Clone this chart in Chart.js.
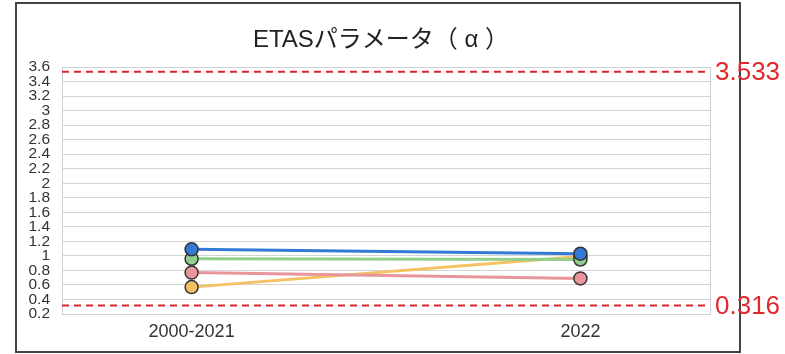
<!DOCTYPE html>
<html>
<head>
<meta charset="utf-8">
<script src="https://cdn.jsdelivr.net/npm/chart.js@4"></script>
<style>
  body { margin: 0; background: #fff; }
  #wrap { width: 785px; height: 354px; }
</style>
</head>
<body>
<div id="wrap"><canvas id="myChart" width="785" height="354"></canvas></div>
<script>
// Categories on the x axis
const categories = ["2000-2021", "2022"];

// Series values
const blueValues   = [1.09, 1.03];
const greenValues  = [0.96, 0.95];
const pinkValues   = [0.77, 0.69];
const orangeValues = [0.57, 0.99];

// Reference lines (red dashed)
const refValues = [3.533, 0.316];
const refLabels = ["3.533", "0.316"];

// Y axis range
const yMin = 0.2, yMax = 3.6, yStep = 0.2;

const chartTitle = 'ETASパラメータ（ α ）';

const toPoints = arr => arr.map((v, i) => ({ x: i, y: v }));

function series(label, values, color) {
  return {
    label: label,
    data: toPoints(values),
    borderColor: color,
    backgroundColor: color,
    borderWidth: 3,
    pointRadius: 6.5,
    pointBorderColor: '#333',
    pointBorderWidth: 1.5,
    pointBackgroundColor: color,
    tension: 0
  };
}

// Outer frame, title, plot border, dashed reference lines with labels
const extras = {
  id: 'extras',
  beforeDraw(chart) {
    const ctx = chart.ctx;
    ctx.save();
    ctx.strokeStyle = '#444';
    ctx.lineWidth = 2;
    ctx.strokeRect(16, 3, 724, 349);
    ctx.fillStyle = '#222';
    ctx.font = '24px "Liberation Sans", "Noto Sans CJK JP", sans-serif';
    ctx.textAlign = 'center';
    ctx.textBaseline = 'alphabetic';
    ctx.fillText(chartTitle, 381, 47);
    ctx.restore();
  },
  afterDatasetsDraw(chart) {
    const ctx = chart.ctx;
    const a = chart.chartArea;
    const y = chart.scales.y;
    ctx.save();
    ctx.strokeStyle = '#cfcfcf';
    ctx.lineWidth = 1;
    ctx.strokeRect(a.left + 0.5, a.top + 0.5, a.right - a.left, a.bottom - a.top);
    refValues.forEach((v, i) => {
      const py = y.getPixelForValue(v);
      ctx.strokeStyle = '#d9262b';
      ctx.lineWidth = 2;
      ctx.setLineDash([7, 5]);
      ctx.beginPath();
      ctx.moveTo(a.left, py);
      ctx.lineTo(a.right, py);
      ctx.stroke();
      ctx.setLineDash([]);
      ctx.fillStyle = '#e0282d';
      ctx.font = '26px "Liberation Sans", Arial, sans-serif';
      ctx.textBaseline = 'middle';
      ctx.textAlign = 'left';
      ctx.fillText(refLabels[i], a.right + 5, py + 1);
    });
    ctx.restore();
  }
};

const myChart = document.getElementById('myChart');

let lineChart = new Chart(myChart, {
  type: 'line',
  data: {
    datasets: [
      series('系列1', blueValues, '#3479d4'),
      series('系列2', greenValues, '#90d08a'),
      series('系列3', pinkValues, '#e8969c'),
      series('系列4', orangeValues, '#f4c262')
    ]
  },
  options: {
    responsive: false,
    animation: false,
    layout: { padding: { top: 67, right: 75, bottom: 0, left: 0 } },
    plugins: {
      legend: { display: false },
      tooltip: { enabled: false },
      title: { display: false }
    },
    scales: {
      x: {
        type: 'linear',
        min: -1 / 3,
        max: 4 / 3,
        afterBuildTicks: scale => {
          scale.ticks = categories.map((c, i) => ({ value: i }));
        },
        afterFit: scale => { scale.height = 40; },
        grid: { display: false, drawTicks: false },
        border: { display: false },
        ticks: {
          padding: 7,
          color: '#333',
          font: { family: '"Liberation Sans", Arial, sans-serif', size: 18 },
          callback: value => categories[value]
        }
      },
      y: {
        min: yMin,
        max: yMax,
        afterFit: scale => { scale.width = 62; },
        grid: { color: '#d4d4d4', drawTicks: false },
        border: { display: false },
        ticks: {
          stepSize: yStep,
          autoSkip: false,
          padding: 12,
          color: '#333',
          font: { family: '"Liberation Sans", Arial, sans-serif', size: 15.5, lineHeight: 1 },
          callback: value => String(+value.toFixed(1))
        }
      }
    }
  },
  plugins: [extras]
});
</script>
</body>
</html>
